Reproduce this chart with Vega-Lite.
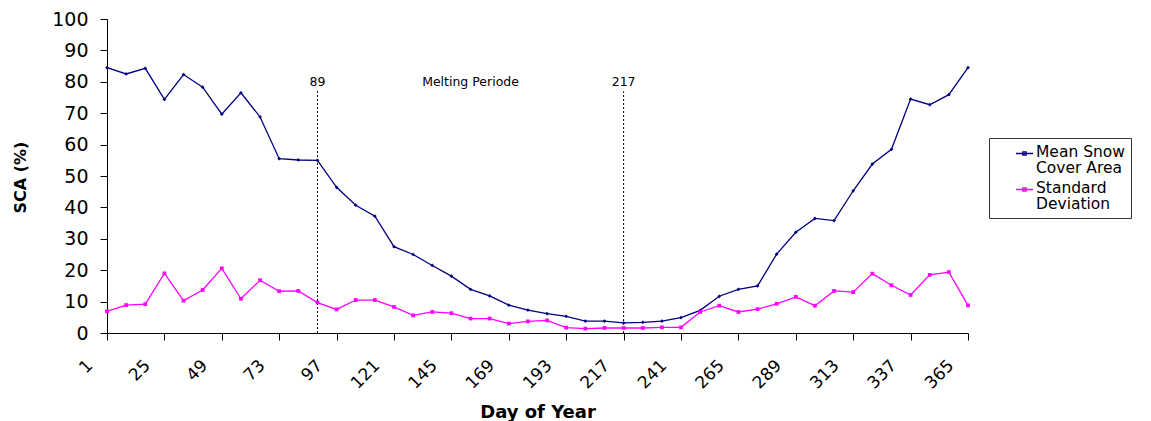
{
  "$schema": "https://vega.github.io/schema/vega-lite/v6.json",
  "width": 861,
  "height": 314,
  "autosize": {"type": "none"},
  "padding": {"left": 107, "top": 19, "right": 183, "bottom": 88},
  "background": "white",
  "config": {
    "view": {"stroke": null},
    "font": "DejaVu Sans",
    "axis": {"grid": false, "domainColor": "black", "tickColor": "black", "labelColor": "black", "titleColor": "black", "domainWidth": 1, "tickWidth": 1, "labelFont": "DejaVu Sans", "titleFont": "DejaVu Sans"}
  },
  "datasets": {
    "series": [
      {"day": 1, "series": "Mean Snow Cover Area", "sca": 84.5},
      {"day": 9, "series": "Mean Snow Cover Area", "sca": 82.5},
      {"day": 17, "series": "Mean Snow Cover Area", "sca": 84.3},
      {"day": 25, "series": "Mean Snow Cover Area", "sca": 74.4},
      {"day": 33, "series": "Mean Snow Cover Area", "sca": 82.3},
      {"day": 41, "series": "Mean Snow Cover Area", "sca": 78.3},
      {"day": 49, "series": "Mean Snow Cover Area", "sca": 69.7},
      {"day": 57, "series": "Mean Snow Cover Area", "sca": 76.5},
      {"day": 65, "series": "Mean Snow Cover Area", "sca": 68.8},
      {"day": 73, "series": "Mean Snow Cover Area", "sca": 55.5},
      {"day": 81, "series": "Mean Snow Cover Area", "sca": 55.1},
      {"day": 89, "series": "Mean Snow Cover Area", "sca": 55.0},
      {"day": 97, "series": "Mean Snow Cover Area", "sca": 46.4},
      {"day": 105, "series": "Mean Snow Cover Area", "sca": 40.7},
      {"day": 113, "series": "Mean Snow Cover Area", "sca": 37.2},
      {"day": 121, "series": "Mean Snow Cover Area", "sca": 27.5},
      {"day": 129, "series": "Mean Snow Cover Area", "sca": 25.0},
      {"day": 137, "series": "Mean Snow Cover Area", "sca": 21.5},
      {"day": 145, "series": "Mean Snow Cover Area", "sca": 18.1},
      {"day": 153, "series": "Mean Snow Cover Area", "sca": 13.9},
      {"day": 161, "series": "Mean Snow Cover Area", "sca": 11.8},
      {"day": 169, "series": "Mean Snow Cover Area", "sca": 8.9},
      {"day": 177, "series": "Mean Snow Cover Area", "sca": 7.3},
      {"day": 185, "series": "Mean Snow Cover Area", "sca": 6.2},
      {"day": 193, "series": "Mean Snow Cover Area", "sca": 5.3},
      {"day": 201, "series": "Mean Snow Cover Area", "sca": 3.8},
      {"day": 209, "series": "Mean Snow Cover Area", "sca": 3.8},
      {"day": 217, "series": "Mean Snow Cover Area", "sca": 3.2},
      {"day": 225, "series": "Mean Snow Cover Area", "sca": 3.4},
      {"day": 233, "series": "Mean Snow Cover Area", "sca": 3.8},
      {"day": 241, "series": "Mean Snow Cover Area", "sca": 4.9},
      {"day": 249, "series": "Mean Snow Cover Area", "sca": 7.2},
      {"day": 257, "series": "Mean Snow Cover Area", "sca": 11.7},
      {"day": 265, "series": "Mean Snow Cover Area", "sca": 13.9},
      {"day": 273, "series": "Mean Snow Cover Area", "sca": 15.0},
      {"day": 281, "series": "Mean Snow Cover Area", "sca": 25.1},
      {"day": 289, "series": "Mean Snow Cover Area", "sca": 32.1},
      {"day": 297, "series": "Mean Snow Cover Area", "sca": 36.5},
      {"day": 305, "series": "Mean Snow Cover Area", "sca": 35.8},
      {"day": 313, "series": "Mean Snow Cover Area", "sca": 45.3},
      {"day": 321, "series": "Mean Snow Cover Area", "sca": 53.8},
      {"day": 329, "series": "Mean Snow Cover Area", "sca": 58.5},
      {"day": 337, "series": "Mean Snow Cover Area", "sca": 74.5},
      {"day": 345, "series": "Mean Snow Cover Area", "sca": 72.7},
      {"day": 353, "series": "Mean Snow Cover Area", "sca": 75.9},
      {"day": 365, "series": "Mean Snow Cover Area", "sca": 84.5},
      {"day": 1, "series": "Standard Deviation", "sca": 6.9},
      {"day": 9, "series": "Standard Deviation", "sca": 8.9},
      {"day": 17, "series": "Standard Deviation", "sca": 9.2},
      {"day": 25, "series": "Standard Deviation", "sca": 19.0},
      {"day": 33, "series": "Standard Deviation", "sca": 10.3},
      {"day": 41, "series": "Standard Deviation", "sca": 13.7},
      {"day": 49, "series": "Standard Deviation", "sca": 20.6},
      {"day": 57, "series": "Standard Deviation", "sca": 10.9},
      {"day": 65, "series": "Standard Deviation", "sca": 16.8},
      {"day": 73, "series": "Standard Deviation", "sca": 13.3},
      {"day": 81, "series": "Standard Deviation", "sca": 13.4},
      {"day": 89, "series": "Standard Deviation", "sca": 9.7},
      {"day": 97, "series": "Standard Deviation", "sca": 7.5},
      {"day": 105, "series": "Standard Deviation", "sca": 10.5},
      {"day": 113, "series": "Standard Deviation", "sca": 10.5},
      {"day": 121, "series": "Standard Deviation", "sca": 8.3},
      {"day": 129, "series": "Standard Deviation", "sca": 5.6},
      {"day": 137, "series": "Standard Deviation", "sca": 6.7},
      {"day": 145, "series": "Standard Deviation", "sca": 6.3},
      {"day": 153, "series": "Standard Deviation", "sca": 4.6},
      {"day": 161, "series": "Standard Deviation", "sca": 4.6},
      {"day": 169, "series": "Standard Deviation", "sca": 3.0},
      {"day": 177, "series": "Standard Deviation", "sca": 3.7},
      {"day": 185, "series": "Standard Deviation", "sca": 4.0},
      {"day": 193, "series": "Standard Deviation", "sca": 1.7},
      {"day": 201, "series": "Standard Deviation", "sca": 1.4},
      {"day": 209, "series": "Standard Deviation", "sca": 1.6},
      {"day": 217, "series": "Standard Deviation", "sca": 1.6},
      {"day": 225, "series": "Standard Deviation", "sca": 1.6},
      {"day": 233, "series": "Standard Deviation", "sca": 1.8},
      {"day": 241, "series": "Standard Deviation", "sca": 1.8},
      {"day": 249, "series": "Standard Deviation", "sca": 6.7},
      {"day": 257, "series": "Standard Deviation", "sca": 8.7},
      {"day": 265, "series": "Standard Deviation", "sca": 6.7},
      {"day": 273, "series": "Standard Deviation", "sca": 7.6},
      {"day": 281, "series": "Standard Deviation", "sca": 9.3},
      {"day": 289, "series": "Standard Deviation", "sca": 11.5},
      {"day": 297, "series": "Standard Deviation", "sca": 8.7},
      {"day": 305, "series": "Standard Deviation", "sca": 13.4},
      {"day": 313, "series": "Standard Deviation", "sca": 13.0},
      {"day": 321, "series": "Standard Deviation", "sca": 18.9},
      {"day": 329, "series": "Standard Deviation", "sca": 15.2},
      {"day": 337, "series": "Standard Deviation", "sca": 12.1},
      {"day": 345, "series": "Standard Deviation", "sca": 18.5},
      {"day": 353, "series": "Standard Deviation", "sca": 19.4},
      {"day": 365, "series": "Standard Deviation", "sca": 8.8}
    ],
    "bounds": [
      {"day": 89, "sca": 0, "top": 77},
      {"day": 217, "sca": 0, "top": 77}
    ],
    "notes": [
      {"day": 89, "sca": 80, "label": "89"},
      {"day": 153, "sca": 80, "label": "Melting Periode"},
      {"day": 217, "sca": 80, "label": "217"}
    ]
  },
  "encoding": {
    "x": {
      "field": "day", "type": "ordinal", "title": "Day of Year",
      "scale": {"type": "point", "padding": 0},
      "axis": {
        "values": [1, 25, 49, 73, 97, 121, 145, 169, 193, 217, 241, 265, 289, 313, 337, 365],
        "labelAngle": -45, "labelAlign": "right", "labelBaseline": "top",
        "labelOffset": -23, "labelPadding": 17, "labelFontSize": 17,
        "labelOverlap": false, "labelBound": false,
        "tickSize": 7, "titleFontSize": 18, "titleFontWeight": "bold",
        "titleY": 79, "titleBaseline": "middle"
      }
    },
    "y": {
      "field": "sca", "type": "quantitative", "title": "SCA (%)",
      "scale": {"domain": [0, 100], "nice": false},
      "axis": {
        "values": [0, 10, 20, 30, 40, 50, 60, 70, 80, 90, 100],
        "labelOverlap": false,
        "labelFontSize": 19, "labelPadding": 12, "tickSize": 7,
        "titleFontSize": 16, "titleFontWeight": "bold",
        "titleX": -87, "titleY": 158, "titleAngle": -90,
        "titleAlign": "center", "titleBaseline": "middle"
      }
    }
  },
  "layer": [
    {
      "data": {"name": "bounds"},
      "mark": {"type": "rule", "color": "black", "strokeWidth": 1, "strokeDash": [2, 2]},
      "encoding": {
        "y2": {"field": "top"}
      }
    },
    {
      "data": {"name": "series"},
      "mark": {"type": "line", "strokeWidth": 1.3},
      "encoding": {
        "color": {
          "field": "series", "type": "nominal",
          "scale": {"domain": ["Mean Snow Cover Area", "Standard Deviation"], "range": ["#000080", "#FF00FF"]},
          "legend": {
            "orient": "none", "legendX": 882, "legendY": 119, "title": null,
            "strokeColor": "#333333", "fillColor": "white", "padding": 6,
            "symbolOffset": 20, "symbolType": "M-1,0H1M-0.2,-0.2H0.2V0.2H-0.2Z",
            "symbolSize": 289, "symbolStrokeWidth": 1.3,
            "labelFont": "DejaVu Sans", "labelFontSize": 15.5, "labelColor": "black",
            "labelOffset": 2, "labelBaseline": "top", "labelLimit": 0, "rowPadding": 4,
            "labelExpr": "datum.label == 'Mean Snow Cover Area' ? ['Mean Snow', 'Cover Area'] : ['Standard', 'Deviation']",
            "encode": {"labels": {"update": {"dy": {"value": -9}, "lineHeight": {"value": 16}}}}
          }
        }
      }
    },
    {
      "data": {"name": "series"},
      "transform": [{"filter": "datum.series == 'Mean Snow Cover Area'"}],
      "mark": {"type": "point", "filled": true, "size": 14, "opacity": 1, "shape": "diamond", "color": "#000080"}
    },
    {
      "data": {"name": "series"},
      "transform": [{"filter": "datum.series == 'Standard Deviation'"}],
      "mark": {"type": "point", "filled": true, "size": 14, "opacity": 1, "shape": "square", "color": "#FF00FF"}
    },
    {
      "data": {"name": "notes"},
      "mark": {"type": "text", "fontSize": 12.5, "color": "black", "font": "DejaVu Sans", "baseline": "middle", "align": "center"},
      "encoding": {
        "text": {"field": "label"}
      }
    }
  ]
}
